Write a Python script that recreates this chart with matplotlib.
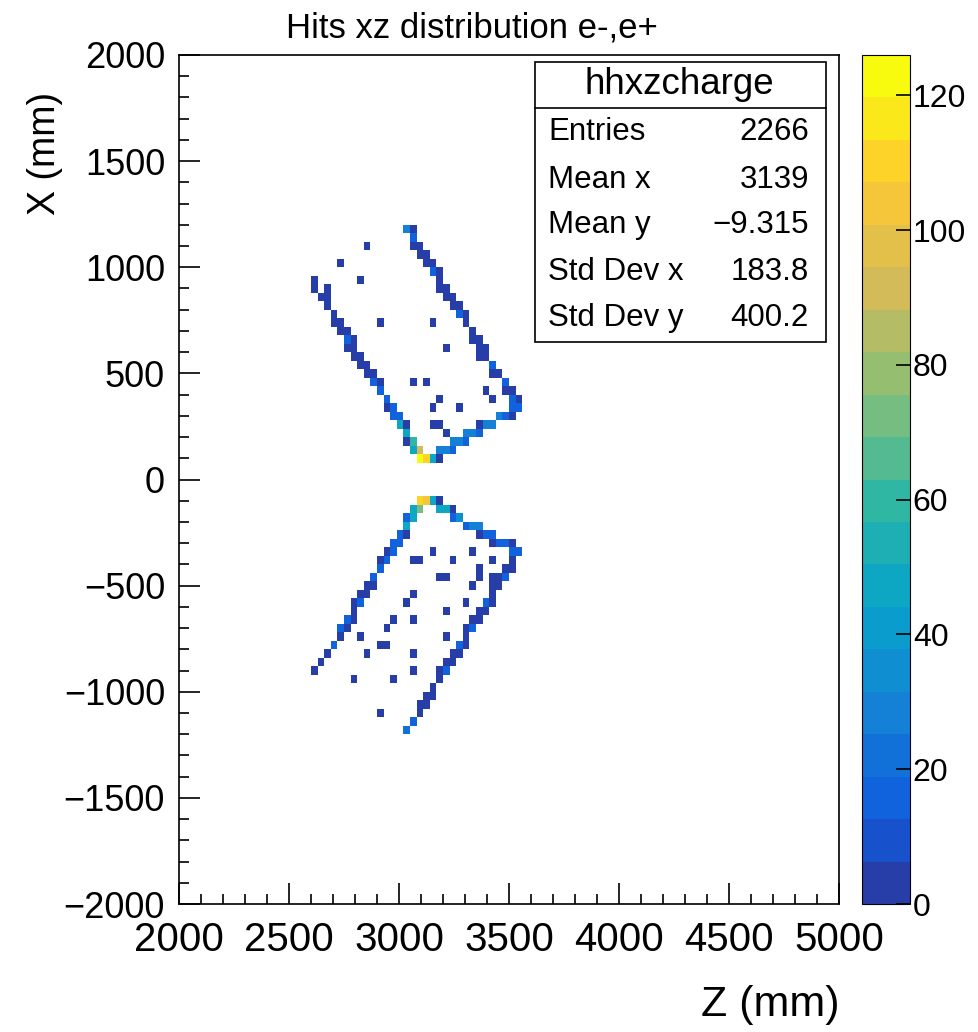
import numpy as np
import matplotlib
matplotlib.use("Agg")
import matplotlib.pyplot as plt
from matplotlib.colors import LinearSegmentedColormap, ListedColormap, BoundaryNorm
from matplotlib.patches import Rectangle
from matplotlib.lines import Line2D
from matplotlib.ticker import MultipleLocator

plt.rcParams['font.family'] = ['Liberation Sans', 'DejaVu Sans']

# hits with x > 0 (bin centres in mm, bin content)
upper_z = [3035, 3065,
           3065,
           3065, 3095, 2855,
           3095, 3125,
           3125, 3155, 2735,
           3155, 3185,
           3185, 2615, 2825,
           3185, 3215, 2615, 2675,
           3215, 3245, 2645, 2675,
           3245, 3275, 2675,
           3275, 3305, 2705,
           3305, 2705, 2735, 2915, 3155,
           3335, 2735, 2765,
           3335, 3365, 2765, 2795,
           3365, 3395, 2765, 2795, 3215,
           3365, 3395, 2795, 2825,
           3425, 2825, 2855,
           3425, 3455, 2855, 2885,
           3485, 2885, 2915, 3065, 3125,
           3485, 3515, 2915, 3395,
           3515, 3545, 2945, 3185, 3425,
           3515, 3545, 2945, 2975, 3155, 3275,
           3455, 3485, 3515, 2975, 3005,
           3365, 3395, 3425, 3005, 3035, 3155, 3185,
           3305, 3335, 3365, 3035, 3215,
           3245, 3275, 3305, 3035, 3065,
           3185, 3215, 3245, 3065, 3095,
           3095, 3125, 3155, 3185]
upper_x = [1180, 1180,
           1140,
           1100, 1100, 1100,
           1060, 1060,
           1020, 1020, 1020,
           980, 980,
           940, 940, 940,
           900, 900, 900, 900,
           860, 860, 860, 860,
           820, 820, 820,
           780, 780, 780,
           740, 740, 740, 740, 740,
           700, 700, 700,
           660, 660, 660, 660,
           620, 620, 620, 620, 620,
           580, 580, 580, 580,
           540, 540, 540,
           500, 500, 500, 500,
           460, 460, 460, 460, 460,
           420, 420, 420, 420,
           380, 380, 380, 380, 380,
           340, 340, 340, 340, 340, 340,
           300, 300, 300, 300, 300,
           260, 260, 260, 260, 260, 260, 260,
           220, 220, 220, 220, 220,
           180, 180, 180, 180, 180,
           140, 140, 140, 140, 140,
           100, 100, 100, 100]
upper_n = [28, 3,
           16,
           3, 3, 3,
           3, 3,
           3, 3, 3,
           16, 3,
           3, 3, 3,
           3, 3, 3, 3,
           3, 3, 3, 3,
           3, 3, 3,
           16, 3, 3,
           3, 3, 3, 3, 3,
           3, 3, 3,
           3, 3, 16, 3,
           3, 3, 3, 3, 3,
           3, 3, 3, 3,
           16, 3, 3,
           3, 3, 3, 3,
           16, 16, 3, 3, 3,
           3, 3, 16, 3,
           16, 3, 16, 3, 3,
           16, 16, 3, 16, 3, 3,
           28, 16, 3, 16, 16,
           3, 28, 28, 45, 3, 3, 3,
           28, 28, 16, 45, 3,
           28, 28, 16, 3, 62,
           30, 30, 16, 45, 90,
           126, 108, 45, 3]

# hits with x < 0
lower_z = [3095, 3125, 3155, 3185,
           3065, 3095, 3185, 3215, 3245,
           3035, 3065, 3245, 3275,
           3035, 3305, 3335, 3365,
           3005, 3035, 3365, 3395, 3425,
           2975, 3005, 3425, 3455, 3485, 3515,
           2945, 2975, 3515, 3545, 3155, 3335,
           2915, 2945, 3515, 3065, 3095, 3245, 3425,
           2915, 3485, 3515, 3365,
           2885, 3425, 3455, 3485, 3365, 3185, 3215,
           2855, 2885, 3425, 3455, 3335,
           2825, 2855, 3425, 3065,
           2795, 2825, 3395, 3425, 3035, 3305,
           2795, 3365, 3395, 3215,
           2765, 2795, 3335, 3365, 2975, 3065,
           2735, 2765, 3305, 3335, 2945,
           2735, 3305, 2825, 3215,
           2705, 3275, 3305, 2915, 2945,
           2675, 3245, 3275, 2855, 3065,
           2645, 3215, 3245,
           2615, 3185, 3215, 3065,
           3185, 2795, 2975,
           3155,
           3125, 3155,
           3095, 3125,
           3095, 2915,
           3065,
           3035]
lower_x = [-100, -100, -100, -100,
           -140, -140, -140, -140, -140,
           -180, -180, -180, -180,
           -220, -220, -220, -220,
           -260, -260, -260, -260, -260,
           -300, -300, -300, -300, -300, -300,
           -340, -340, -340, -340, -340, -340,
           -380, -380, -380, -380, -380, -380, -380,
           -420, -420, -420, -420,
           -460, -460, -460, -460, -460, -460, -460,
           -500, -500, -500, -500, -500,
           -540, -540, -540, -540,
           -580, -580, -580, -580, -580, -580,
           -620, -620, -620, -620,
           -660, -660, -660, -660, -660, -660,
           -700, -700, -700, -700, -700,
           -740, -740, -740, -740,
           -780, -780, -780, -780, -780,
           -820, -820, -820, -820, -820,
           -860, -860, -860,
           -900, -900, -900, -900,
           -940, -940, -940,
           -980,
           -1020, -1020,
           -1060, -1060,
           -1100, -1100,
           -1140,
           -1180]
lower_n = [108, 105, 45, 3,
           45, 70, 45, 45, 3,
           16, 45, 16, 35,
           45, 16, 28, 28,
           16, 3, 3, 16, 16,
           16, 16, 3, 16, 16, 3,
           3, 16, 16, 16, 3, 3,
           3, 16, 3, 3, 3, 3, 3,
           16, 3, 3, 3,
           16, 3, 3, 16, 3, 3, 3,
           3, 3, 3, 3, 3,
           3, 3, 3, 3,
           3, 16, 16, 3, 3, 3,
           3, 3, 3, 3,
           16, 3, 3, 3, 3, 3,
           16, 3, 3, 16, 3,
           3, 3, 3, 3,
           16, 16, 3, 3, 3,
           3, 3, 3, 3, 3,
           3, 3, 3,
           3, 3, 16, 3,
           3, 3, 3,
           3,
           3, 3,
           3, 3,
           3, 3,
           16,
           20]

stats_labels = ["Entries", "Mean x", "Mean y", "Std Dev x", "Std Dev y"]
stats_values = ["2266", "3139", "\u22129.315", "183.8", "400.2"]

# ROOT kBird palette
bird_stops = [0.0, 0.125, 0.25, 0.375, 0.5, 0.625, 0.75, 0.875, 1.0]
bird_r = [0.2082, 0.0592, 0.0780, 0.0232, 0.1802, 0.5301, 0.8186, 0.9956, 0.9764]
bird_g = [0.1664, 0.3599, 0.5041, 0.6419, 0.7178, 0.7492, 0.7328, 0.7862, 0.9832]
bird_b = [0.5293, 0.8684, 0.8385, 0.7914, 0.6425, 0.4662, 0.3499, 0.1968, 0.0539]
bird = LinearSegmentedColormap.from_list(
    "bird", list(zip(bird_stops, zip(bird_r, bird_g, bird_b))))

nlev = 20
zmax = 126
levels = np.linspace(0, zmax, nlev + 1)
# same colour picking as THistPainter: int((k + 0.99) * ncolors / ndiv)
pick = ((np.arange(nlev) + 0.99) * 255 / nlev).astype(int) / 254
cmap = ListedColormap(bird(np.clip(pick, 0, 1)))
norm = BoundaryNorm(levels, nlev)

W, H = 979, 1032
fig = plt.figure(figsize=(W / 100, H / 100), dpi=100)


def fx(px):
    return px / W


def fy(py):
    return 1 - py / H


ax = fig.add_axes([fx(179), fy(904), fx(839) - fx(179), fy(55) - fy(904)])
cax = fig.add_axes([fx(862), fy(904), fx(910) - fx(862), fy(55) - fy(904)])

zedges = np.linspace(2000, 5000, 101)
xedges = np.linspace(-2000, 2000, 101)
all_z = upper_z + lower_z
all_x = upper_x + lower_x
all_n = upper_n + lower_n
h = ax.hist2d(all_z, all_x, bins=[zedges, xedges], weights=all_n,
              cmap=cmap, norm=norm, cmin=0.5)

ax.set_xlim(2000, 5000)
ax.set_ylim(-2000, 2000)
ax.set_xticks(range(2000, 5001, 500))
ax.set_yticks(range(-2000, 2001, 500))
ax.xaxis.set_minor_locator(MultipleLocator(100))
ax.yaxis.set_minor_locator(MultipleLocator(100))
ax.tick_params(which='both', direction='in', top=False, right=False, width=1.2)
ax.tick_params(which='major', length=15)
ax.tick_params(which='minor', length=7.5)
ax.tick_params(axis='x', labelsize=29, pad=12)
ax.tick_params(axis='y', labelsize=26, pad=10)
for s in ax.spines.values():
    s.set_linewidth(1.2)

cb = fig.colorbar(h[3], cax=cax, ticks=range(0, 121, 20))
cb.outline.set_linewidth(0.8)
cax.tick_params(direction='in', length=10, width=1.2, labelsize=23, pad=2)
cax.minorticks_off()

fig.text(fx(472), fy(28), "Hits xz distribution e-,e+", ha='center',
         va='center', fontsize=25)
fig.text(fx(840), fy(1005), "Z (mm)", ha='right', va='center', fontsize=31)
fig.text(fx(45), fy(92), "X (mm)", ha='center', va='top', rotation=90,
         fontsize=27)

# stats box
box = Rectangle((fx(535), fy(342)), fx(826) - fx(535), fy(62) - fy(342),
                transform=fig.transFigure, facecolor='white',
                edgecolor='black', linewidth=1.2, zorder=5)
fig.add_artist(box)
fig.add_artist(Line2D([fx(535), fx(826)], [fy(108), fy(108)],
                      transform=fig.transFigure, color='black',
                      linewidth=1.2, zorder=6))
fig.text(fx(679), fy(85), "hhxzcharge", ha='center', va='center',
         fontsize=26.5, zorder=7)
row_y = [132, 180, 225, 272, 318]
for lab, val, py in zip(stats_labels, stats_values, row_y):
    fig.text(fx(548), fy(py), lab, ha='left', va='center', fontsize=22.5,
             zorder=7)
    fig.text(fx(809), fy(py), val, ha='right', va='center', fontsize=22.5,
             zorder=7)

fig.savefig("out.png", dpi=100)
